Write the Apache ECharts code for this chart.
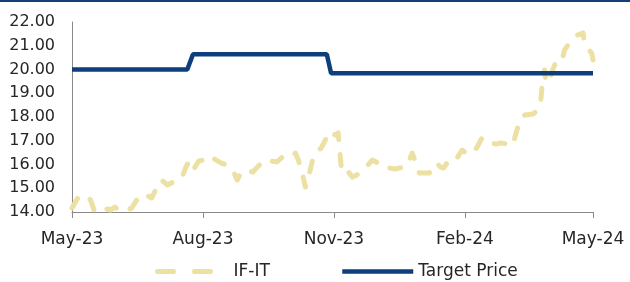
<!DOCTYPE html>
<html>
<head>
<meta charset="utf-8">
<script src="https://cdn.jsdelivr.net/npm/echarts@6/dist/echarts.min.js"></script>
<style>
  html, body { margin: 0; padding: 0; background: #fff; }
  #chart { width: 630px; height: 282px; }
</style>
</head>
<body>
<div id="chart"></div>
<script>
// IF-IT daily series
var ifitDates = [
  '2023-05-01','2023-05-03','2023-05-05','2023-05-09','2023-05-14','2023-05-17','2023-05-21','2023-05-26',
  '2023-05-28','2023-05-31','2023-06-03','2023-06-05','2023-06-09','2023-06-12','2023-06-15','2023-06-18',
  '2023-06-22','2023-06-26','2023-06-30','2023-07-03','2023-07-07','2023-07-14','2023-07-17','2023-07-20',
  '2023-07-22','2023-07-24','2023-07-26','2023-07-29','2023-08-02','2023-08-06','2023-08-09','2023-08-14',
  '2023-08-19','2023-08-22','2023-08-25','2023-08-28','2023-09-01','2023-09-05','2023-09-09','2023-09-14',
  '2023-09-17','2023-09-22','2023-09-26','2023-09-30','2023-10-05','2023-10-07','2023-10-10','2023-10-12',
  '2023-10-15','2023-10-17','2023-10-19','2023-10-23','2023-10-26','2023-10-28','2023-10-30','2023-11-02',
  '2023-11-04','2023-11-05','2023-11-06','2023-11-07','2023-11-10','2023-11-14','2023-11-17','2023-11-21',
  '2023-11-25','2023-11-28','2023-12-02','2023-12-05','2023-12-10','2023-12-14','2023-12-17','2023-12-21',
  '2023-12-24','2023-12-26','2023-12-29','2023-12-31','2024-01-04','2024-01-07','2024-01-10','2024-01-12',
  '2024-01-15','2024-01-17','2024-01-18','2024-01-20','2024-01-25','2024-01-27','2024-01-30','2024-02-02',
  '2024-02-07','2024-02-10','2024-02-13','2024-02-16','2024-02-19','2024-02-23','2024-02-26','2024-03-02',
  '2024-03-06','2024-03-07','2024-03-09','2024-03-12','2024-03-14','2024-03-20','2024-03-23','2024-03-25',
  '2024-03-26','2024-03-27','2024-03-28','2024-03-29','2024-03-31','2024-04-02','2024-04-05','2024-04-09',
  '2024-04-11','2024-04-15','2024-04-20','2024-04-24','2024-04-25','2024-04-27','2024-04-30','2024-05-01'
];
var ifitValues = [
  14.17, 14.38, 14.59, 14.72, 14.51, 14.00, 14.04, 14.13,
  14.08, 14.21, 14.08, 14.04, 14.08, 14.17, 14.46, 14.72,
  14.72, 14.59, 15.09, 15.35, 15.14, 15.35, 15.43, 15.89,
  16.11, 16.19, 15.85, 16.15, 16.19, 16.06, 16.23, 16.06,
  15.94, 15.77, 15.35, 15.68, 15.77, 15.68, 15.94, 16.19,
  16.15, 16.11, 16.32, 16.27, 16.48, 16.19, 15.56, 15.05,
  15.68, 16.19, 16.48, 16.69, 17.03, 17.37, 17.33, 17.24,
  17.33, 16.61, 15.98, 15.68, 15.77, 15.47, 15.56, 15.77,
  15.98, 16.19, 16.06, 15.89, 15.85, 15.81, 15.85, 15.89,
  16.19, 16.48, 15.98, 15.64, 15.64, 15.64, 15.94, 16.06,
  15.89, 15.85, 15.89, 16.11, 16.11, 16.32, 16.61, 16.48,
  16.48, 16.78, 17.12, 16.95, 16.91, 16.86, 16.91, 16.86,
  16.82, 17.12, 17.54, 17.96, 18.08, 18.13, 18.29, 18.51,
  19.14, 19.77, 19.98, 19.47, 19.47, 19.89, 20.32, 20.32,
  20.82, 21.16, 21.45, 21.54, 21.12, 20.91, 20.69, 20.40
];

// target price steps
var tpDates = ['2023-05-01', '2023-07-21', '2023-07-25', '2023-10-27', '2023-10-30', '2024-05-01'];
var tpValues = [20.00, 20.00, 20.64, 20.64, 19.84, 19.84];

// x axis ticks
var tickDates = ['2023-05-01', '2023-08-01', '2023-11-01', '2024-02-01', '2024-05-01'];
var tickLabels = ['May-23', 'Aug-23', 'Nov-23', 'Feb-24', 'May-24'];

function ts(s) {
  return new Date(s + 'T00:00:00').getTime();
}
var tickTimes = tickDates.map(ts);

var FONT = 'DejaVu Sans';
var TEXT = '#262626';
var KHAKI = '#ECE1A2';
var NAVY = '#0E3F7C';

var chart = echarts.init(document.getElementById('chart'));
chart.setOption({
  animation: false,
  backgroundColor: '#fff',
  graphic: [{
    type: 'rect',
    left: 0, top: 0,
    shape: { width: 630, height: 2 },
    style: { fill: '#123F7A' }
  }],
  grid: { left: 72, right: 37, top: 22, bottom: 70 },
  legend: [
    {
      data: ['IF-IT'],
      left: 150, top: 258,
      itemWidth: 57, itemHeight: 10,
      itemStyle: { opacity: 0 },
      lineStyle: { type: [16, 21], width: 5, cap: 'round' },
      textStyle: { fontFamily: FONT, fontSize: 17, color: TEXT, padding: [0, 0, 0, 14] }
    },
    {
      data: ['Target Price'],
      left: 335, top: 258,
      itemWidth: 71, itemHeight: 10,
      itemStyle: { opacity: 0 },
      lineStyle: { width: 4.5 },
      textStyle: { fontFamily: FONT, fontSize: 17, color: TEXT }
    }
  ],
  xAxis: {
    type: 'value',
    min: tickTimes[0],
    max: tickTimes[tickTimes.length - 1],
    splitLine: { show: false },
    axisLine: { lineStyle: { color: '#8a8a8a', width: 1 } },
    axisTick: { show: true, length: 6, customValues: tickTimes, lineStyle: { color: '#8a8a8a' } },
    axisLabel: {
      customValues: tickTimes,
      margin: 19,
      fontFamily: FONT, fontSize: 17, color: TEXT,
      formatter: function (v) {
        var i = tickTimes.indexOf(v);
        return i >= 0 ? tickLabels[i] : '';
      }
    }
  },
  yAxis: {
    type: 'value',
    min: 14, max: 22, interval: 1,
    splitLine: { show: false },
    axisTick: { show: false },
    axisLine: { show: true, lineStyle: { color: '#8a8a8a', width: 1 } },
    axisLabel: {
      margin: 17,
      fontFamily: FONT, fontSize: 16, color: TEXT,
      formatter: function (v) { return v.toFixed(2); }
    }
  },
  series: [
    {
      name: 'IF-IT',
      type: 'line',
      symbol: 'none',
      data: ifitDates.map(function (d, i) { return [ts(d), ifitValues[i]]; }),
      lineStyle: { color: KHAKI, width: 5, type: [11, 15], cap: 'round', join: 'round' },
      itemStyle: { color: KHAKI }
    },
    {
      name: 'Target Price',
      type: 'line',
      symbol: 'none',
      data: tpDates.map(function (d, i) { return [ts(d), tpValues[i]]; }),
      lineStyle: { color: NAVY, width: 4.5 },
      itemStyle: { color: NAVY }
    }
  ]
});
</script>
</body>
</html>
